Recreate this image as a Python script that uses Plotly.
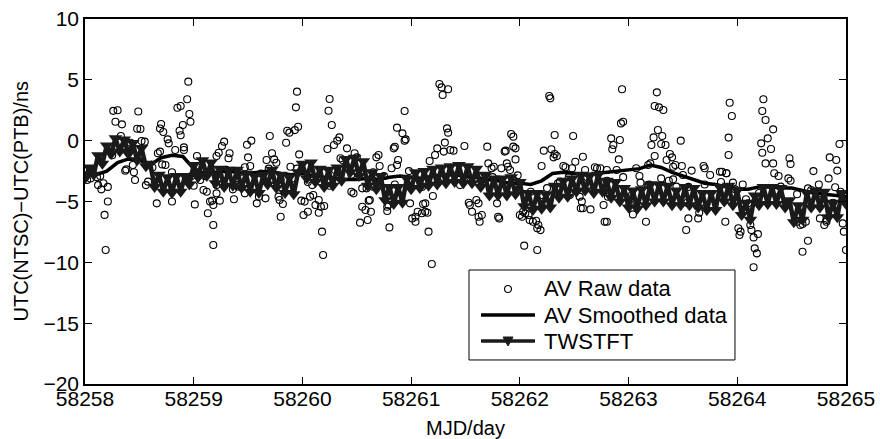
import plotly.graph_objects as go

# AV raw data (MJD, ns)
raw_mjd = [
    58258.02, 58258.05, 58258.11, 58258.12, 58258.14, 58258.15, 58258.17, 58258.21, 58258.21,
    58258.18, 58258.19, 58258.26, 58258.28, 58258.30, 58258.33, 58258.34, 58258.37, 58258.38,
    58258.42, 58258.44, 58258.46, 58258.48, 58258.49, 58258.51, 58258.52, 58258.55, 58258.56,
    58258.58, 58258.66, 58258.67, 58258.69, 58258.69, 58258.70, 58258.71, 58258.72, 58258.74,
    58258.76, 58258.77, 58258.80, 58258.83, 58258.85, 58258.87, 58258.88, 58258.88, 58258.90,
    58258.91, 58258.91, 58258.94, 58258.95, 58258.96, 58258.97, 58259.00, 58259.01, 58259.03,
    58259.06, 58259.09, 58259.12, 58259.13, 58259.15, 58259.17, 58259.18, 58259.18, 58259.18,
    58259.21, 58259.21, 58259.21, 58259.23, 58259.24, 58259.26, 58259.28, 58259.32, 58259.33,
    58259.36, 58259.37, 58259.40, 58259.41, 58259.47, 58259.47, 58259.49, 58259.50, 58259.52,
    58259.53, 58259.58, 58259.60, 58259.66, 58259.67, 58259.69, 58259.70, 58259.72, 58259.74,
    58259.76, 58259.78, 58259.79, 58259.80, 58259.82, 58259.85, 58259.86, 58259.88, 58259.89,
    58259.91, 58259.93, 58259.94, 58259.95, 58259.96, 58259.97, 58259.99, 58260.01, 58260.02,
    58260.05, 58260.07, 58260.09, 58260.10, 58260.12, 58260.15, 58260.15, 58260.17, 58260.18,
    58260.19, 58260.20, 58260.23, 58260.24, 58260.25, 58260.27, 58260.29, 58260.30, 58260.32,
    58260.34, 58260.35, 58260.37, 58260.38, 58260.41, 58260.45, 58260.47, 58260.48, 58260.50,
    58260.53, 58260.55, 58260.55, 58260.58, 58260.59, 58260.60, 58260.61, 58260.62, 58260.63,
    58260.65, 58260.68, 58260.70, 58260.71, 58260.71, 58260.75, 58260.78, 58260.78, 58260.79,
    58260.80, 58260.82, 58260.84, 58260.85, 58260.87, 58260.87, 58260.88, 58260.92, 58260.94,
    58260.94, 58260.95, 58260.99, 58261.01, 58261.04, 58261.04, 58261.06, 58261.10, 58261.11,
    58261.13, 58261.13, 58261.15, 58261.16, 58261.17, 58261.19, 58261.20, 58261.22, 58261.24,
    58261.26, 58261.28, 58261.29, 58261.30, 58261.31, 58261.33, 58261.34, 58261.34, 58261.36,
    58261.39, 58261.45, 58261.49, 58261.53, 58261.54, 58261.56, 58261.60, 58261.62, 58261.62,
    58261.63, 58261.65, 58261.70, 58261.71, 58261.74, 58261.76, 58261.79, 58261.80, 58261.81,
    58261.83, 58261.86, 58261.87, 58261.88, 58261.89, 58261.91, 58261.92, 58261.94, 58261.94,
    58261.96, 58261.96, 58261.98, 58262.00, 58262.02, 58262.03, 58262.04, 58262.05, 58262.08,
    58262.09, 58262.12, 58262.15, 58262.16, 58262.16, 58262.17, 58262.19, 58262.20, 58262.20,
    58262.22, 58262.27, 58262.28, 58262.29, 58262.31, 58262.32, 58262.32, 58262.34, 58262.35,
    58262.37, 58262.40, 58262.42, 58262.46, 58262.48, 58262.49, 58262.51, 58262.55, 58262.56,
    58262.57, 58262.58, 58262.58, 58262.60, 58262.65, 58262.69, 58262.71, 58262.74, 58262.77,
    58262.78, 58262.80, 58262.80, 58262.81, 58262.83, 58262.84, 58262.85, 58262.86, 58262.89,
    58262.91, 58262.92, 58262.93, 58262.94, 58262.95, 58262.97, 58263.01, 58263.02, 58263.04,
    58263.07, 58263.11, 58263.16, 58263.18, 58263.18, 58263.19, 58263.20, 58263.21, 58263.23,
    58263.24, 58263.24, 58263.26, 58263.27, 58263.28, 58263.30, 58263.31, 58263.32, 58263.34,
    58263.35, 58263.37, 58263.38, 58263.40, 58263.41, 58263.41, 58263.43, 58263.44, 58263.48,
    58263.49, 58263.50, 58263.53, 58263.54, 58263.55, 58263.58, 58263.63, 58263.64, 58263.65,
    58263.69, 58263.70, 58263.75, 58263.84, 58263.86, 58263.87, 58263.89, 58263.90, 58263.90,
    58263.92, 58263.92, 58263.93, 58263.95, 58263.96, 58264.01, 58264.02, 58264.03, 58264.08,
    58264.10, 58264.12, 58264.12, 58264.13, 58264.15, 58264.15, 58264.16, 58264.18, 58264.19,
    58264.22, 58264.23, 58264.23, 58264.24, 58264.26, 58264.26, 58264.28, 58264.31, 58264.33,
    58264.33, 58264.34, 58264.38, 58264.40, 58264.47, 58264.48, 58264.49, 58264.49, 58264.55,
    58264.58, 58264.60, 58264.60, 58264.63, 58264.65, 58264.65, 58264.68, 58264.70, 58264.73,
    58264.76, 58264.76, 58264.80, 58264.82, 58264.82, 58264.84, 58264.85, 58264.88, 58264.90,
    58264.91, 58264.92, 58264.94, 58264.97, 58264.98, 58265.00,
    # points inside the dense band
    58258.05, 58258.25, 58258.45, 58258.62, 58258.80, 58258.98, 58259.10, 58259.30, 58259.45,
    58259.62, 58259.80, 58259.95, 58260.05, 58260.25, 58260.45, 58260.65, 58260.85, 58260.98,
    58261.10, 58261.25, 58261.40, 58261.55, 58261.75, 58261.95, 58262.10, 58262.25, 58262.45,
    58262.62, 58262.80, 58262.95, 58263.10, 58263.30, 58263.55, 58263.70, 58263.85, 58263.98,
    58264.05, 58264.20, 58264.35, 58264.55, 58264.75, 58264.95,
]
raw_ns = [
    -3.23, -3.10, -3.00, -3.65, -2.90, -4.00, -3.50, -3.80, -5.00,
    -6.10, -8.99, 2.45, 1.56, 2.50, 0.38, 1.34, -2.47, -2.36,
    -0.17, -2.00, -3.23, 0.98, 2.40, 0.96, -0.03, -0.08, -3.65,
    -3.37, -5.15, -1.04, -0.90, 1.00, 1.37, -1.95, 0.71, -2.00,
    0.11, -0.22, -5.00, -0.77, 2.71, 0.82, 2.85, 0.44, 1.29,
    -0.55, -0.77, 3.40, 4.85, 2.19, 1.56, -3.70, -5.24, -1.26,
    -3.23, -4.06, -4.20, -5.97, -5.00, -4.93, -6.93, -8.58, -5.29,
    -1.26, -3.65, -4.33, -0.99, -4.93, -0.44, -0.08, -1.45, -1.04,
    -4.00, -4.82, -3.65, -3.78, -4.33, -2.19, -0.33, -1.37, -2.08,
    0.00, -5.15, -4.60, -4.74, -1.59, -2.30, 0.38, -1.04, -1.54,
    -1.81, -4.60, -4.88, -6.25, -5.21, -0.17, 0.82, 0.66, -2.14,
    -3.10, 0.87, 2.74, 4.03, 1.15, -1.13, -4.93, -6.11, -5.01,
    -5.84, -4.60, -3.65, -4.47, -5.29, -4.88, -5.92, -5.43, -7.48,
    -9.40, -5.37, -0.69, 2.46, 3.42, 1.29, -0.36, -2.41, 0.00,
    0.27, -1.45, -1.59, -2.27, -0.63, -4.20, -4.33, -1.04, -1.37,
    -6.74, -3.92, -5.43, -5.70, -3.92, -6.52, -4.93, -4.88, -5.84,
    -3.78, -1.37, -1.18, -2.08, -3.37, -2.90, -5.43, -5.78, -5.29,
    -7.13, -2.27, -0.63, -0.50, 1.07, -2.00, -1.59, 0.60, 0.00,
    2.44, 0.11, -5.15, -6.39, -6.25, -6.66, -5.84, -5.97, -5.21,
    -5.84, -5.15, -5.92, -7.48, -1.67, -10.14, -4.55, -1.18, -0.63,
    4.66, 4.38, 3.75, -0.90, -0.16, 1.01, 0.66, 4.22, -0.77,
    -0.82, -3.65, -0.44, -5.10, -5.29, -5.84, -4.88, -5.15, -6.25,
    -6.66, -6.11, -0.49, -1.87, -2.27, -2.14, -5.15, -6.25, -6.39,
    -2.27, -0.90, -0.82, -1.87, -2.14, -2.41, 0.55, 0.33, -0.49,
    -0.63, -1.54, -2.85, -6.11, -6.25, -5.84, -8.63, -5.97, -6.11,
    -6.52, -6.66, -6.58, -7.20, -8.99, -6.93, -7.35, -4.47, -2.08,
    -0.82, 3.67, 3.48, -0.71, -1.37, 0.47, -1.10, -1.26, -3.51,
    -3.37, -2.08, -2.19, -4.47, -2.27, 0.38, -1.73, -4.60, -5.56,
    -5.01, -5.56, -1.32, -2.41, -5.65, -2.19, -2.27, -2.27, -5.29,
    -6.66, -2.41, -6.66, -4.60, -4.33, 0.19, -0.71, -0.36, -2.41,
    -1.54, 0.05, 1.42, 4.22, 1.56, -4.60, -5.21, -4.55, -6.06,
    -2.27, -3.45, -6.66, -3.65, -2.00, -3.60, -1.87, -0.36, 0.27,
    2.85, -1.26, 3.97, 0.88, 2.74, -0.27, 0.38, 2.52, -0.36,
    -1.59, -3.29, -1.10, -1.37, -3.18, -2.14, -2.00, -3.78, 0.00,
    -2.08, -2.82, -7.34, -5.10, -6.39, -2.46, -5.37, -6.39, -5.92,
    -2.08, -2.27, -2.82, -2.55, -2.55, -4.60, -6.66, -2.68, -2.68,
    0.25, -1.18, 3.12, 2.03, -3.45, -7.20, -7.75, -7.48, -4.82,
    -5.15, -5.37, -6.93, -7.34, -7.95, -10.40, -8.85, -9.26, -7.68,
    -0.22, 2.44, -0.99, 3.40, 1.70, -1.87, 0.19, -0.69, 0.93,
    -1.87, -2.68, -2.90, -3.78, -3.10, -1.45, -1.92, -3.29, -6.66,
    -6.93, -6.85, -9.13, -6.66, -8.22, -3.92, -4.06, -2.50, -4.20,
    -4.33, -6.39, -6.93, -6.66, -6.52, -3.10, -1.37, -5.10, -3.83,
    -1.59, -2.46, -0.27, -6.80, -7.48, -8.99,
    -2.4, -1.2, -2.6, -2.2, -2.6, -2.9, -2.9, -2.4, -3.1,
    -2.7, -3.2, -2.3, -3.4, -3.7, -2.8, -2.6, -3.6, -2.5,
    -3.8, -3.4, -2.3, -3.3, -3.0, -3.3, -4.2, -3.9, -3.0,
    -3.0, -3.3, -3.0, -2.9, -3.1, -3.8, -3.6, -3.4, -4.0,
    -3.6, -4.3, -4.1, -4.4, -3.6, -4.2,
]

# AV smoothed data, every 0.1 day
smooth_mjd = [
    58258.0, 58258.1, 58258.2, 58258.3, 58258.4, 58258.5, 58258.6, 58258.7, 58258.8, 58258.9,
    58259.0, 58259.1, 58259.2, 58259.3, 58259.4, 58259.5, 58259.6, 58259.7, 58259.8, 58259.9,
    58260.0, 58260.1, 58260.2, 58260.3, 58260.4, 58260.5, 58260.6, 58260.7, 58260.8, 58260.9,
    58261.0, 58261.1, 58261.2, 58261.3, 58261.4, 58261.5, 58261.6, 58261.7, 58261.8, 58261.9,
    58262.0, 58262.1, 58262.2, 58262.3, 58262.4, 58262.5, 58262.6, 58262.7, 58262.8, 58262.9,
    58263.0, 58263.1, 58263.2, 58263.3, 58263.4, 58263.5, 58263.6, 58263.7, 58263.8, 58263.9,
    58264.0, 58264.1, 58264.2, 58264.3, 58264.4, 58264.5, 58264.6, 58264.7, 58264.8, 58264.9,
    58265.0,
]
smooth_ns = [
    -2.8, -2.8, -2.5, -1.8, -1.5, -1.6, -2.0, -1.4, -1.2, -1.3,
    -2.3, -2.7, -2.6, -2.5, -2.6, -2.7, -2.6, -2.5, -2.7, -2.8,
    -2.7, -2.9, -3.0, -3.1, -3.2, -3.2, -3.1, -3.2, -3.0, -2.9,
    -3.0, -3.1, -2.9, -2.8, -2.8, -2.9, -3.0, -3.2, -3.3, -3.5,
    -3.5, -3.6, -3.3, -2.7, -2.6, -2.7, -2.8, -2.7, -2.6, -2.5,
    -2.4, -2.3, -2.0, -2.2, -2.6, -2.9, -3.2, -3.5, -3.6, -3.8,
    -4.0, -4.0, -3.8, -3.8, -3.9, -3.9, -4.1, -4.3, -4.4, -4.5,
    -4.6,
]

# TWSTFT, every 0.04 day
tw_mjd = [
    58258.00, 58258.04, 58258.08, 58258.12, 58258.16, 58258.20, 58258.24, 58258.28, 58258.32,
    58258.36, 58258.40, 58258.44, 58258.48, 58258.52, 58258.56, 58258.60, 58258.64, 58258.68,
    58258.72, 58258.76, 58258.80, 58258.84, 58258.88, 58258.92, 58258.96,
    58259.00, 58259.04, 58259.08, 58259.12, 58259.16, 58259.20, 58259.24, 58259.28, 58259.32,
    58259.36, 58259.40, 58259.44, 58259.48, 58259.52, 58259.56, 58259.60, 58259.64, 58259.68,
    58259.72, 58259.76, 58259.80, 58259.84, 58259.88, 58259.92, 58259.96,
    58260.00, 58260.04, 58260.08, 58260.12, 58260.16, 58260.20, 58260.24, 58260.28, 58260.32,
    58260.36, 58260.40, 58260.44, 58260.48, 58260.52, 58260.56, 58260.60, 58260.64, 58260.68,
    58260.72, 58260.76, 58260.80, 58260.84, 58260.88, 58260.92, 58260.96,
    58261.00, 58261.04, 58261.08, 58261.12, 58261.16, 58261.20, 58261.24, 58261.28, 58261.32,
    58261.36, 58261.40, 58261.44, 58261.48, 58261.52, 58261.56, 58261.60, 58261.64, 58261.68,
    58261.72, 58261.76, 58261.80, 58261.84, 58261.88, 58261.92, 58261.96,
    58262.00, 58262.04, 58262.08, 58262.12, 58262.16, 58262.20, 58262.24, 58262.28, 58262.32,
    58262.36, 58262.40, 58262.44, 58262.48, 58262.52, 58262.56, 58262.60, 58262.64, 58262.68,
    58262.72, 58262.76, 58262.80, 58262.84, 58262.88, 58262.92, 58262.96,
    58263.00, 58263.04, 58263.08, 58263.12, 58263.16, 58263.20, 58263.24, 58263.28, 58263.32,
    58263.36, 58263.40, 58263.44, 58263.48, 58263.52, 58263.56, 58263.60, 58263.64, 58263.68,
    58263.72, 58263.76, 58263.80, 58263.84, 58263.88, 58263.92, 58263.96,
    58264.00, 58264.04, 58264.08, 58264.12, 58264.16, 58264.20, 58264.24, 58264.28, 58264.32,
    58264.36, 58264.40, 58264.44, 58264.48, 58264.52, 58264.56, 58264.60, 58264.64, 58264.68,
    58264.72, 58264.76, 58264.80, 58264.84, 58264.88, 58264.92, 58264.96, 58265.00,
]
tw_ns = [
    -3.1, -2.2, -2.8, -1.2, -1.9, -0.4, -1.1, 0.2, -0.9, 0.1, -1.1, -0.2, -1.6,
    -0.6, -2.1, -1.9, -3.8, -2.8, -4.2, -3.0, -4.3, -2.9, -4.2, -2.9, -3.6,
    -2.0, -3.0, -1.6, -2.9, -1.8, -3.5, -2.3, -3.8, -2.4, -3.7, -2.4, -3.9, -2.7,
    -4.2, -2.9, -4.3, -2.8, -3.6, -2.4, -3.9, -2.8, -4.3, -3.0, -4.4, -2.6,
    -1.9, -3.1, -1.8, -3.4, -2.3, -3.8, -2.4, -3.7, -2.2, -3.3, -1.5, -2.6, -1.4,
    -2.9, -1.7, -3.7, -2.6, -4.0, -2.9, -4.9, -3.8, -5.2, -3.8, -5.1, -3.1,
    -4.0, -2.6, -3.9, -2.5, -3.7, -2.3, -3.6, -2.2, -3.5, -2.1, -3.4, -2.0, -3.5,
    -2.1, -3.5, -2.3, -3.8, -2.8, -4.5, -3.1, -4.5, -3.1, -4.5, -3.0, -4.4,
    -3.4, -5.4, -4.3, -5.7, -4.3, -5.6, -4.4, -5.5, -3.7, -4.7, -3.3, -4.6, -3.1,
    -4.2, -2.8, -4.1, -2.9, -4.3, -2.8, -4.2, -3.3, -4.7, -3.4, -5.0, -3.9,
    -5.5, -4.1, -5.6, -4.0, -5.3, -3.6, -5.0, -3.6, -5.0, -3.7, -5.3, -4.1, -5.3,
    -3.8, -5.3, -3.9, -5.5, -4.3, -5.7, -4.3, -5.7, -3.8, -5.0, -3.7, -5.3,
    -4.1, -6.1, -5.1, -6.5, -4.5, -5.3, -3.8, -5.2, -3.8, -5.2, -3.9, -5.5, -4.9,
    -6.7, -5.3, -6.5, -4.3, -5.5, -4.1, -5.5, -4.2, -6.3, -5.1, -6.3, -4.3, -5.2,
]

x_ticks = [58258, 58259, 58260, 58261, 58262, 58263, 58264, 58265]
y_ticks = [-20, -15, -10, -5, 0, 5, 10]
legend_labels = ["AV Raw data", "AV Smoothed data", "TWSTFT"]

fig = go.Figure()
fig.add_trace(go.Scatter(
    x=raw_mjd, y=raw_ns, mode="markers", name=legend_labels[0],
    marker=dict(symbol="circle-open", size=7, color="black", line=dict(width=1.1, color="black")),
))
fig.add_trace(go.Scatter(
    x=smooth_mjd, y=smooth_ns, mode="lines", name=legend_labels[1],
    line=dict(color="black", width=3.5),
))
fig.add_trace(go.Scatter(
    x=tw_mjd, y=tw_ns, mode="lines+markers", name=legend_labels[2],
    line=dict(color="#1a1a1a", width=4.5),
    marker=dict(symbol="triangle-down", size=12, color="#1a1a1a"),
))

# MATLAB-style legend box drawn by hand (tighter than plotly's own legend)
lg_x0, lg_x1, lg_y0, lg_y1 = 0.5046, 0.8541, 0.0658, 0.3123
row_y = [0.2603, 0.1890, 0.1178]
sym_x0, sym_x1, sym_xc, text_x = 0.5204, 0.5913, 0.5559, 0.6005

shapes = [
    dict(type="rect", xref="paper", yref="paper", x0=lg_x0, x1=lg_x1, y0=lg_y0, y1=lg_y1,
         line=dict(color="black", width=1), fillcolor="white", layer="above"),
    # raw data: open circle
    dict(type="circle", xref="paper", yref="paper", xsizemode="pixel", ysizemode="pixel",
         xanchor=sym_xc, yanchor=row_y[0], x0=-3.5, x1=3.5, y0=-3.5, y1=3.5,
         line=dict(color="black", width=1.1), layer="above"),
    # smoothed: thick line
    dict(type="line", xref="paper", yref="paper", x0=sym_x0, x1=sym_x1, y0=row_y[1], y1=row_y[1],
         line=dict(color="black", width=3.5), layer="above"),
    # TWSTFT: line with a down triangle
    dict(type="line", xref="paper", yref="paper", x0=sym_x0, x1=sym_x1, y0=row_y[2], y1=row_y[2],
         line=dict(color="#1a1a1a", width=3.5), layer="above"),
    dict(type="path", xref="paper", yref="paper", xsizemode="pixel", ysizemode="pixel",
         xanchor=sym_xc, yanchor=row_y[2], path="M -5 4 L 5 4 L 0 -5 Z",
         fillcolor="#1a1a1a", line=dict(color="#1a1a1a", width=1), layer="above"),
]
annotations = [
    dict(text=lab, xref="paper", yref="paper", x=text_x, y=ry, xanchor="left", yanchor="middle",
         showarrow=False, font=dict(size=22))
    for lab, ry in zip(legend_labels, row_y)
]
annotations += [
    dict(text="MJD/day", xref="paper", yref="paper", x=0.5, y=-0.12,
         xanchor="center", yanchor="middle", showarrow=False, font=dict(size=20)),
    dict(text="UTC(NTSC)\u2212UTC(PTB)/ns", xref="paper", yref="paper",
         x=-0.0854, y=0.5, xanchor="center", yanchor="middle", textangle=-90,
         showarrow=False, font=dict(size=20)),
]

axis_style = dict(
    showline=True, linecolor="black", linewidth=1.5, mirror="ticks",
    ticks="inside", ticklen=7, tickcolor="black", tickwidth=1,
    showgrid=False, zeroline=False, automargin=False,
    tickfont=dict(size=21),
)
fig.update_layout(
    width=880, height=439,
    margin=dict(l=85, r=34, t=19, b=55),
    paper_bgcolor="white", plot_bgcolor="white",
    font=dict(family="Liberation Sans, Arial, sans-serif", size=20, color="black"),
    xaxis=dict(range=[58258, 58265], tickvals=x_ticks, tickformat="d",
               ticklabelstandoff=-5, **axis_style),
    yaxis=dict(range=[-20, 10], tickvals=y_ticks, **axis_style),
    showlegend=False,
    shapes=shapes,
    annotations=annotations,
)
fig.write_html("out.html", config={"displayModeBar": False},
               post_script="document.body.style.margin='0px';")
